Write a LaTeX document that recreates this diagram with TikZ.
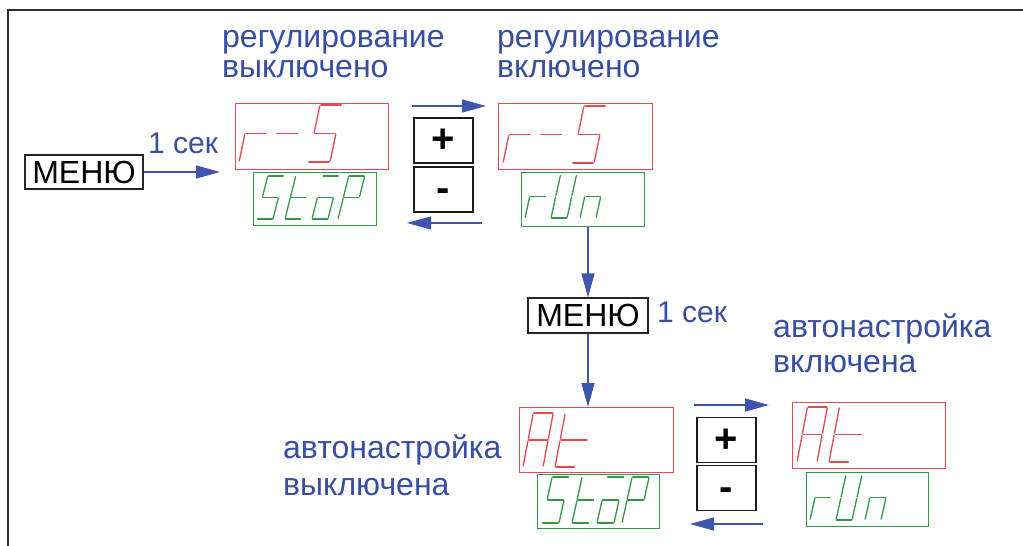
\documentclass[tikz,border=0pt]{standalone}
\usepackage{fontspec}
\setmainfont{Liberation Sans}
\usetikzlibrary{arrows.meta,calc}
\definecolor{tblue}{RGB}{55,78,162}
\definecolor{ablue}{RGB}{62,86,176}
\definecolor{dred}{RGB}{232,72,82}
\definecolor{dgreen}{RGB}{52,150,72}
\definecolor{framec}{RGB}{45,45,45}

\newcommand\sgline[4]{\draw[dseg] ($({#1},{#2})!0.035!({#3},{#4})$) -- ($({#3},{#4})!0.035!({#1},{#2})$);}
\newcommand\sgsega[2]{\sgline{#1+\sgK*\sgH}{#2-\sgH}{#1+\sgW+\sgK*\sgH}{#2-\sgH}}
\newcommand\sgsegb[2]{\sgline{#1+\sgW+\sgK*\sgH}{#2-\sgH}{#1+\sgW+\sgK*\sgH/2}{#2-\sgH/2}}
\newcommand\sgsegc[2]{\sgline{#1+\sgW+\sgK*\sgH/2}{#2-\sgH/2}{#1+\sgW}{#2}}
\newcommand\sgsegd[2]{\sgline{#1}{#2}{#1+\sgW}{#2}}
\newcommand\sgsege[2]{\sgline{#1+\sgK*\sgH/2}{#2-\sgH/2}{#1}{#2}}
\newcommand\sgsegf[2]{\sgline{#1+\sgK*\sgH}{#2-\sgH}{#1+\sgK*\sgH/2}{#2-\sgH/2}}
\newcommand\sgsegg[2]{\sgline{#1+\sgK*\sgH/2}{#2-\sgH/2}{#1+\sgW+\sgK*\sgH/2}{#2-\sgH/2}}
\newcommand\sgsegG[2]{\sgline{#1+\sgK*\sgH/2}{#2-\sgH/2}{#1+1.4*\sgW+\sgK*\sgH/2}{#2-\sgH/2}}
\newcommand\sgdigit[3]{\foreach \sgs in {#3}{\csname sgseg\sgs\endcsname{#1}{#2}}}

\tikzset{
  dseg/.style={line width=1.3pt, line cap=round},
  disp/.style={draw, line width=1.2pt, inner sep=0pt, anchor=north west},
  lab/.style={font=\fontsize{32}{36}\selectfont, text=tblue, inner sep=0pt, anchor=base west},
  sec/.style={font=\fontsize{30}{34}\selectfont, text=tblue, inner sep=0pt, anchor=base west},
  menubox/.style={draw=black!85, fill=white, line width=1.2pt, inner sep=0pt,
    font=\fontsize{32}{34}\selectfont},
  pmbox/.style={draw=black!90, line width=1.6pt, inner sep=0pt, text height=24pt, text depth=0pt,
    minimum width=59pt, minimum height=45pt, font=\bfseries\fontsize{40}{40}\selectfont},
  arr/.style={draw=ablue, line width=1.3pt, -{Triangle[length=24pt,width=13pt]}},
  framel/.style={draw=framec, line width=2pt}
}

\begin{document}
\begin{tikzpicture}[x=1pt,y=-1pt]
\useasboundingbox (0,0) rectangle (1023,546);
\fill[white] (0,0) rectangle (1023,546);
\draw[framel] (8,546) -- (8,10) -- (1023,10);

% displays
\node[disp, draw=dred, minimum width=153pt, minimum height=66pt] (red1) at (235,103) {};
\node[disp, draw=dgreen, minimum width=123pt, minimum height=53pt] (green1) at (253,172) {};
\node[disp, draw=dred, minimum width=154pt, minimum height=66pt] (red2) at (498,103) {};
\node[disp, draw=dgreen, minimum width=123pt, minimum height=54pt] (green2) at (521,172) {};
\node[disp, draw=dred, minimum width=154pt, minimum height=65pt] (red3) at (519,407) {};
\node[disp, draw=dgreen, minimum width=122pt, minimum height=54pt] (green3) at (537,474) {};
\node[disp, draw=dred, minimum width=153pt, minimum height=66pt] (red4) at (792,402) {};
\node[disp, draw=dgreen, minimum width=122pt, minimum height=54pt] (green4) at (806,472) {};

% digits
\begin{scope}[color=dred]
  \def\sgW{22}\def\sgH{57}\def\sgK{0.21}
  \sgdigit{239}{162}{e,g}\sgdigit{270}{162}{g}\sgdigit{308}{162}{a,f,g,c,d}
  \sgdigit{503}{163}{e,g}\sgdigit{534}{163}{g}\sgdigit{572}{163}{a,f,g,c,d}
\end{scope}
\begin{scope}[color=dred]
  \def\sgW{20}\def\sgH{54}\def\sgK{0.19}
  \sgdigit{523}{467}{a,b,c,e,f,g}\sgdigit{555}{467}{f,e,G,d}
  \def\sgH{55}
  \sgdigit{797}{462}{a,b,c,e,f,g}\sgdigit{829}{462}{f,e,G,d}
\end{scope}
\begin{scope}[color=dgreen]
  \def\sgW{16}\def\sgH{43}\def\sgK{0.25}
  \sgdigit{257}{219}{a,f,g,c,d}\sgdigit{285}{219}{f,e,g,d}\sgdigit{312}{219}{a,g,c,d,e}\sgdigit{338}{219}{a,b,f,g,e}
  \def\sgW{17}\def\sgH{46}\def\sgK{0.22}
  \sgdigit{542}{523}{a,f,g,c,d}\sgdigit{572}{523}{f,e,g,d}\sgdigit{597}{523}{a,g,c,d,e}\sgdigit{622}{523}{a,b,f,g,e}
  \def\sgW{16}\def\sgH{43}\def\sgK{0.22}
  \sgdigit{525}{218}{e,g}\sgdigit{551}{218}{f,e,d,b,c}\sgdigit{580}{218}{g,e,c}
  \def\sgH{45}
  \sgdigit{810}{520}{e,g}\sgdigit{836}{520}{f,e,d,b,c}\sgdigit{865}{520}{g,e,c}
\end{scope}

% labels
\node[lab] (l1a) at (222,47) {регулирование};
\node[lab] (l1b) at (222,77) {выключено};
\node[lab] (l2a) at (497,47) {регулирование};
\node[lab] (l2b) at (497,77) {включено};
\node[lab] (l3a) at (773,337) {автонастройка};
\node[lab] (l3b) at (773,372) {включена};
\node[lab] (l4a) at (283,458) {автонастройка};
\node[lab] (l4b) at (283,495) {выключена};

% menu boxes
\node[menubox, minimum width=118pt, minimum height=34pt] (menu1) at (84,172) {МЕНЮ};
\node[menubox, minimum width=120pt, minimum height=35pt] (menu2) at (588,315.5) {МЕНЮ};
\node[sec] (sec1) at (148,153) {1 сек};
\node[sec] (sec2) at (657,322) {1 сек};

% plus / minus
\node[pmbox] (plus1) at (443.5,140.5) {+};
\node[pmbox] (minus1) at (443.5,189.5) {-};
\node[pmbox] (plus2) at (726.5,440) {+};
\node[pmbox] (minus2) at (726.5,488) {-};

% connectors
\coordinate (m1tip) at (220,172);
\draw[arr] (menu1.east) -- (m1tip);
\coordinate (pa1) at (412,106); \coordinate (pa2) at (486,106);
\draw[arr] (pa1) -- (pa2);
\coordinate (pb1) at (482,223); \coordinate (pb2) at (407,223);
\draw[arr] (pb1) -- (pb2);
\draw[arr] (green2.south -| menu2.north) -- (menu2.north);
\draw[arr] (menu2.south) -- (menu2.south |- red3.north);
\coordinate (pc1) at (694,405); \coordinate (pc2) at (769,405);
\draw[arr] (pc1) -- (pc2);
\coordinate (pd1) at (763,524); \coordinate (pd2) at (690,524);
\draw[arr] (pd1) -- (pd2);
\end{tikzpicture}
\end{document}
